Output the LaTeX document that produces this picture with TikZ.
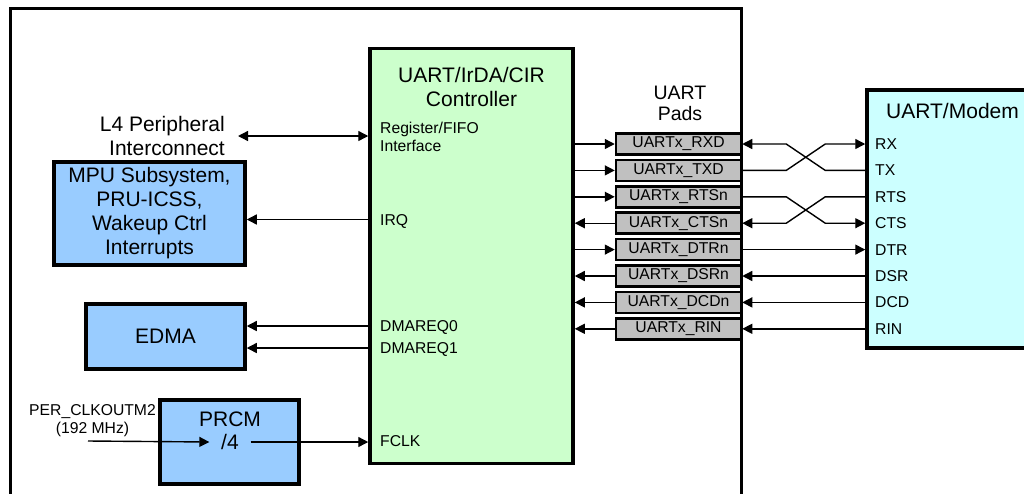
\documentclass[tikz,border=0pt]{standalone}
\usepackage{fontspec}
\setmainfont{Liberation Sans}
\usetikzlibrary{arrows.meta}
\definecolor{blk}{HTML}{99CCFF}
\definecolor{ctl}{HTML}{CCFFCC}
\definecolor{mdm}{HTML}{CCFFFF}
\definecolor{pad}{HTML}{C0C0C0}
\tikzset{
  big/.style={font=\fontsize{21}{24}\selectfont},
  mid/.style={font=\fontsize{19.5}{21}\selectfont},
  small/.style={font=\fontsize{15.7}{17.5}\selectfont},
  blkbox/.style={draw, line width=3.5pt, fill=blk, inner sep=0pt, big, align=center},
  padbox/.style={draw, line width=2.5pt, fill=pad, minimum width=125pt, minimum height=21pt, inner sep=0pt, small},
  port/.style={anchor=west, small, inner sep=0pt, text height=11pt, text depth=0pt},
  sig/.style={line width=1.4pt, -{Triangle[length=10pt,width=10pt]}},
  bisig/.style={line width=1.4pt, {Triangle[length=10pt,width=10pt]}-{Triangle[length=10pt,width=10pt]}},
}
\begin{document}
\begin{tikzpicture}[x=1pt,y=-1pt]
\path[use as bounding box, clip] (0,0) rectangle (1024,493);
\fill[white] (0,0) rectangle (1024,493);
% outer frame
\draw[line width=3pt] (10,500) -- (10,8.5) -- (741,8.5) -- (741,500);
% controller
\node[draw, line width=3.5pt, fill=ctl, minimum width=203pt, minimum height=415pt, inner sep=0pt] (ctrl) at (471.5,256) {};
\node[big, align=center, anchor=base] (ctitle) at (471.5,106) {UART/IrDA/CIR\\Controller};
\node[small, align=left, anchor=base west, inner sep=0pt] (regfifo) at (380,151) {Register/FIFO\\Interface};
\node[port] (irq) at (380,219.5) {IRQ};
\node[port] (dma0) at (380,326) {DMAREQ0};
\node[port] (dma1) at (380,348) {DMAREQ1};
\node[port] (fclk) at (380,441) {FCLK};
% left side blocks
\node[big, align=right, anchor=base east, inner sep=0pt] (l4) at (225,155) {L4 Peripheral\\Interconnect};
\coordinate (l4end) at (238,136);
\draw[bisig] (l4end) -- (ctrl.west |- l4end);
\node[blkbox, minimum width=191pt, minimum height=103pt] (mpu) at (149.5,213.5) {MPU Subsystem,\\PRU-ICSS,\\Wakeup Ctrl\\Interrupts};
\draw[sig] (ctrl.west |- irq.west) -- (mpu.east |- irq.west);
\node[blkbox, minimum width=159pt, minimum height=65pt] (edma) at (165.5,336.5) {EDMA};
\draw[sig] (ctrl.west |- dma0.west) -- (edma.east |- dma0.west);
\draw[sig] (ctrl.west |- dma1.west) -- (edma.east |- dma1.west);
\node[blkbox, minimum width=139pt, minimum height=84pt] (prcm) at (229.5,442) {};
\node[big, anchor=base, inner sep=0pt] (prcmt) at (230,426) {PRCM};
\node[big, minimum width=41pt, inner sep=0pt, text height=15pt, text depth=0pt] (div4) at (230,442) {/4};
\node[small, align=center, anchor=base, inner sep=0pt] (clklab) at (92.5,433) {PER\_CLKOUTM2\\(192 MHz)};
\coordinate (clkin) at (88,441);
\draw[sig] (clkin) -- (div4.west);
\draw[sig] (div4.east) -- (ctrl.west |- div4.east);
% pads
\node[mid, align=center, anchor=base, inner sep=0pt] (padt) at (680,120) {UART\\Pads};
\foreach \n/\t/\y in {rxd/UARTx\_RXD/144, txd/UARTx\_TXD/170.4, rts/UARTx\_RTSn/196.8, cts/UARTx\_CTSn/223.2, dtr/UARTx\_DTRn/249.6, dsr/UARTx\_DSRn/276, dcd/UARTx\_DCDn/302.4, rin/UARTx\_RIN/328.8}
  \node[padbox] (\n) at (678.5,\y) {\t};
\draw[sig] (ctrl.east |- rxd) -- (rxd.west);
\draw[sig] (ctrl.east |- txd) -- (txd.west);
\draw[sig] (ctrl.east |- rts) -- (rts.west);
\draw[sig] (cts.west) -- (ctrl.east |- cts);
\draw[sig] (ctrl.east |- dtr) -- (dtr.west);
\draw[sig] (dsr.west) -- (ctrl.east |- dsr);
\draw[sig] (dcd.west) -- (ctrl.east |- dcd);
\draw[sig] (rin.west) -- (ctrl.east |- rin);
% modem
\node[draw, line width=3.5pt, fill=mdm, minimum width=180pt, minimum height=258pt, inner sep=0pt] (modem) at (957,219) {};
\node[big, anchor=base west, inner sep=0pt] (mtitle) at (886,118) {UART/Modem};
\foreach \n/\t/\y in {prx/RX/144, ptx/TX/170.4, prts/RTS/196.8, pcts/CTS/223.2, pdtr/DTR/249.6, pdsr/DSR/276, pdcd/DCD/302.4, prin/RIN/328.8}
  \node[port] (\n) at (875,\y) {\t};
% crossings
\draw[sig] (txd.east) -- ++(44,0) -- ([xshift=-40pt]modem.west |- prx.west) -- (modem.west |- prx.west);
\draw[sig] (modem.west |- ptx.west) -- ++(-40,0) -- ([xshift=44pt]rxd.east) -- (rxd.east);
\draw[sig] (rts.east) -- ++(44,0) -- ([xshift=-40pt]modem.west |- pcts.west) -- (modem.west |- pcts.west);
\draw[sig] (modem.west |- prts.west) -- ++(-40,0) -- ([xshift=44pt]cts.east) -- (cts.east);
\draw[sig] (dtr.east) -- (modem.west |- pdtr.west);
\draw[sig] (modem.west |- pdsr.west) -- (dsr.east);
\draw[sig] (modem.west |- pdcd.west) -- (dcd.east);
\draw[sig] (modem.west |- prin.west) -- (rin.east);
\end{tikzpicture}
\end{document}
